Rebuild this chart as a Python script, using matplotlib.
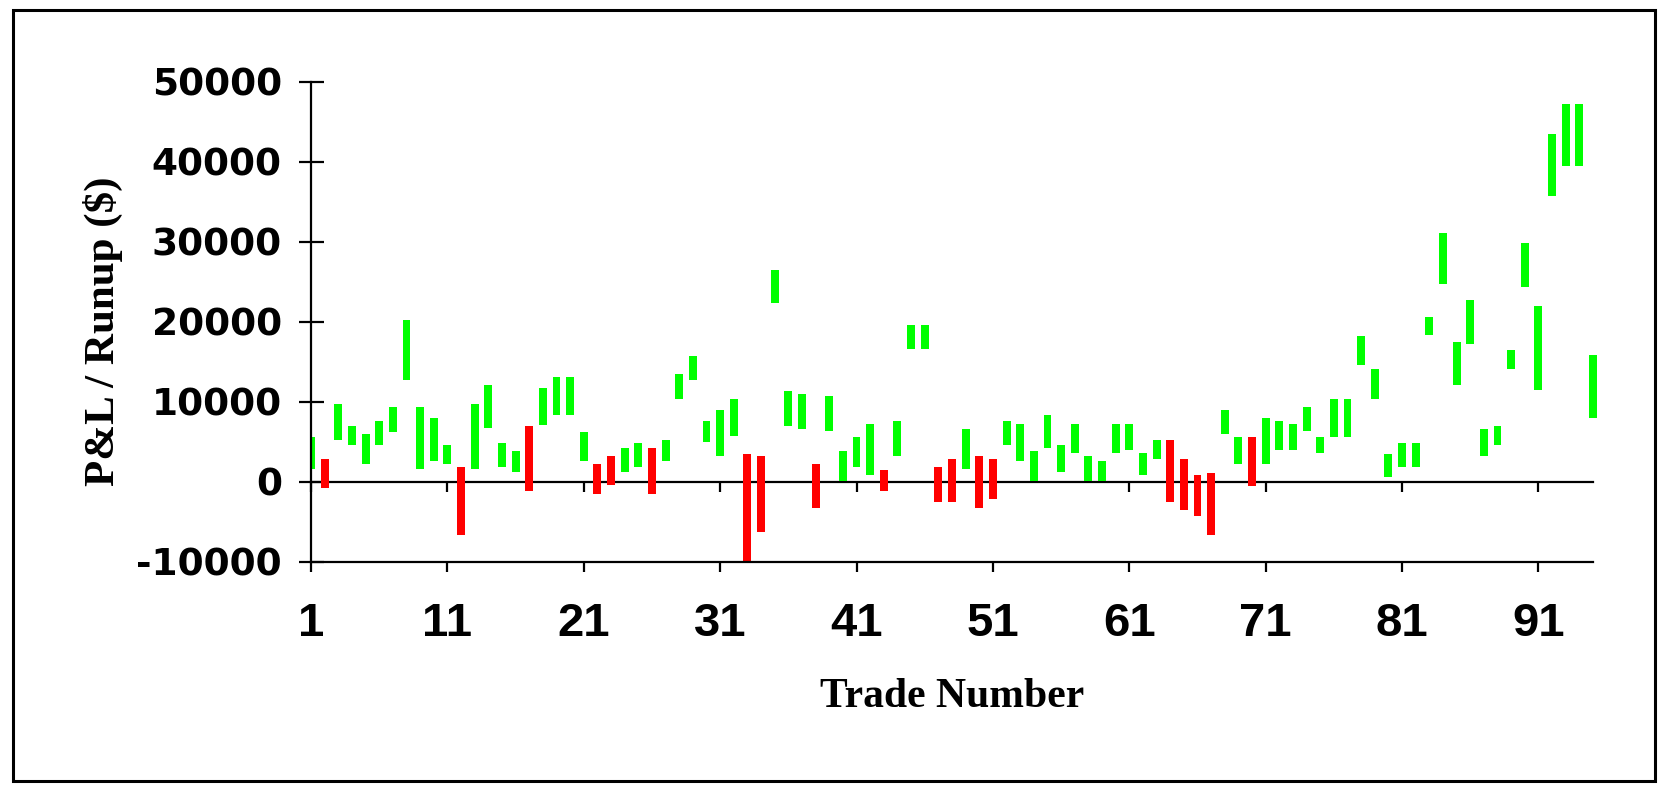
import matplotlib
matplotlib.use("Agg")
import matplotlib.pyplot as plt
from matplotlib.patches import Rectangle
import numpy as np

# ---- data ----
trade_number = list(range(1, 96))
bar_low = [
    1600, -800, 5300, 4600, 2200, 4600, 6300, 12800, 1600, 2600,
    2200, -6600, 1600, 6750, 1900, 1250, -1100, 7100, 8400, 8400,
    2600, -1450, -400, 1250, 1900, -1450, 2600, 10400, 12800, 5000,
    3250, 5700, -10000, -6250, 22400, 7000, 6650, -3250, 6350, 100,
    1900, 900, -1150, 3250, 16600, 16600, -2500, -2500, 1600, -3250,
    -2150, 4600, 2600, 100, 4300, 1250, 3600, 100, 100, 3600,
    3950, 900, 2900, -2500, -3550, -4250, -6650, 5950, 2200, -500,
    2200, 3950, 3950, 6350, 3600, 5600, 5600, 14600, 10400, 600,
    1900, 1900, 18350, 24750, 12150, 17250, 3250, 4600, 14150, 24400,
    11450, 35700, 39450, 39450, 8050,
]
bar_high = [
    5600, 2900, 9700, 7000, 6000, 7600, 9400, 20300, 9400, 8000,
    4600, 1900, 9700, 12100, 4900, 3900, 7000, 11750, 13100, 13100,
    6300, 2200, 3250, 4250, 4900, 4250, 5300, 13450, 15800, 7600,
    9050, 10400, 3550, 3250, 26450, 11400, 11050, 2200, 10700, 3900,
    5600, 7300, 1450, 7600, 19600, 19600, 1900, 2900, 6650, 3250,
    2900, 7600, 7300, 3900, 8350, 4600, 7300, 3250, 2600, 7300,
    7300, 3600, 5300, 5300, 2900, 850, 1150, 9050, 5600, 5600,
    8000, 7600, 7300, 9400, 5600, 10400, 10400, 18250, 14150, 3550,
    4900, 4900, 20600, 31150, 17500, 22700, 6650, 6950, 16550, 29900,
    21950, 43450, 47250, 47250, 15850,
]
x_ticks = [1, 11, 21, 31, 41, 51, 61, 71, 81, 91]
y_ticks = [-10000, 0, 10000, 20000, 30000, 40000, 50000]

win_color = "#00FF00"
loss_color = "#FF0000"

W, H = 1671, 786
fig = plt.figure(figsize=(W / 100, H / 100), dpi=100)
ax = fig.add_axes([311 / W, 1 - 562 / H, (1593 - 311) / W, (562 - 82) / H])

low = np.array(bar_low)
high = np.array(bar_high)
colors = [loss_color if v < 0 else win_color for v in low]
bars = ax.bar(trade_number, high - low, bottom=low, width=0.58,
              color=colors, edgecolor="none", zorder=2)

ax.set_xlim(1, 95)
ax.set_ylim(-10000, 50000)
for b, x in zip(bars, trade_number):
    if x >= 95:
        b.set_clip_on(False)

for s in ("top", "right"):
    ax.spines[s].set_visible(False)
for s in ("left", "bottom"):
    ax.spines[s].set_linewidth(1.6)

ax.set_xticks(x_ticks)
ax.set_xticklabels([str(t) for t in x_ticks])
ax.set_yticks(y_ticks)
ax.set_yticklabels([str(t) for t in y_ticks])

ax.tick_params(axis="y", direction="inout", length=18, width=1.6, pad=12)
ax.tick_params(axis="x", direction="out", length=7, width=1.6, pad=22)
for lab in ax.get_yticklabels():
    lab.set_fontfamily("DejaVu Sans")
    lab.set_fontweight("bold")
    lab.set_fontsize(27)
for lab in ax.get_xticklabels():
    lab.set_fontfamily("Liberation Sans")
    lab.set_fontweight("bold")
    lab.set_fontsize(34)

# zero line with its own downward ticks
sec = ax.secondary_xaxis(1 / 6)
sec.set_xticks(x_ticks)
sec.tick_params(axis="x", direction="out", length=7, width=1.6,
                bottom=True, top=False, labelbottom=False, labeltop=False)
for s in sec.spines.values():
    s.set_linewidth(1.6)

ax.set_xlabel("Trade Number", fontfamily="Liberation Serif",
              fontweight="bold", fontsize=30, va="center")
ax.xaxis.set_label_coords(0.5, -(697 - 562) / 480)
ax.set_ylabel("P&L / Runup ($)", fontfamily="Liberation Serif",
              fontweight="bold", fontsize=31, va="center")
ax.yaxis.set_label_coords(-(311 - 103) / 1282, 0.48)

fig.patches.append(Rectangle((13 / W, 5 / H), (1655 - 13) / W, (779 - 8) / H,
                             transform=fig.transFigure, fill=False,
                             edgecolor="black", linewidth=2.2))

fig.savefig("out.png", dpi=100, facecolor="white")
